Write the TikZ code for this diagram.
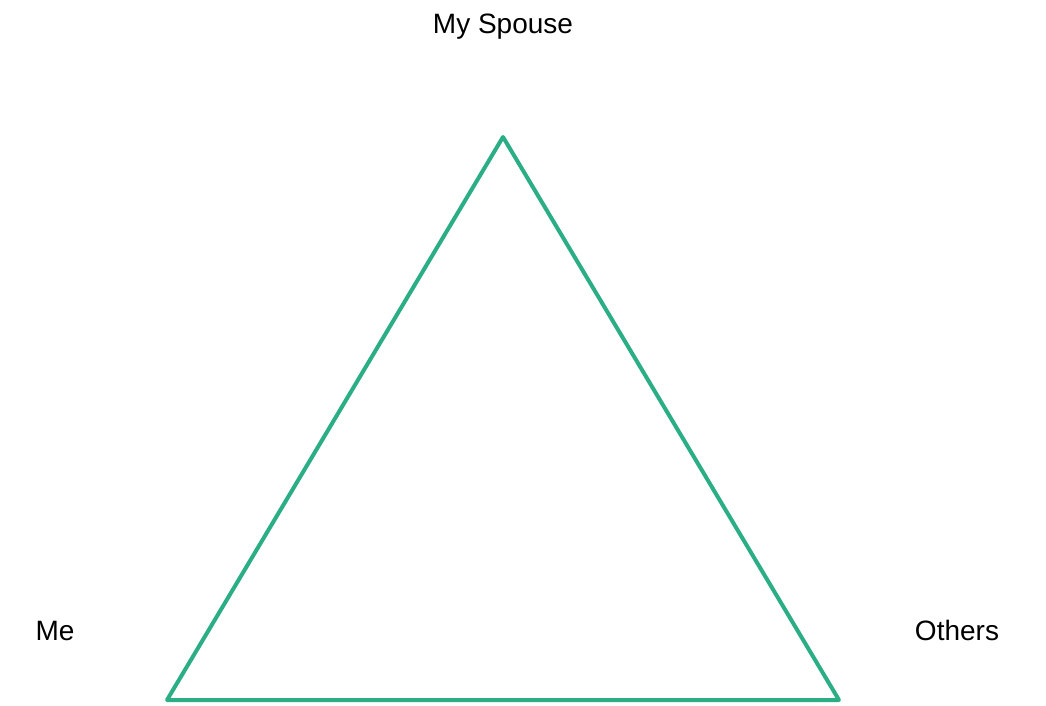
\documentclass[tikz,border=0pt]{standalone}
\usepackage{fontspec}
\setmainfont{Liberation Sans}
\usepackage{xcolor}
\definecolor{triGreen}{HTML}{2BAE86}
\tikzset{
  side/.style = {draw=triGreen, line width=3pt, line join=round},
  corner/.style = {anchor=base, inner sep=0pt, font=\fontsize{21}{25}\selectfont}
}
\usetikzlibrary{positioning}

\begin{document}
\begin{tikzpicture}[x=0.75pt,y=-0.75pt]
  \useasboundingbox (0,0) rectangle (1046,706);

  % corners of the triangle
  \coordinate (top) at (503,137);
  \coordinate (left) at (167,700);
  \coordinate (right) at (839,700);

  \draw[side] (top) -- (left) -- (right) -- cycle;

  \node[corner] (spouse) at (503,34) {My Spouse};
  \node[corner] (me) at (55,640) {Me};
  \node[corner] (others) at (957,640) {Others};

\end{tikzpicture}
\end{document}
